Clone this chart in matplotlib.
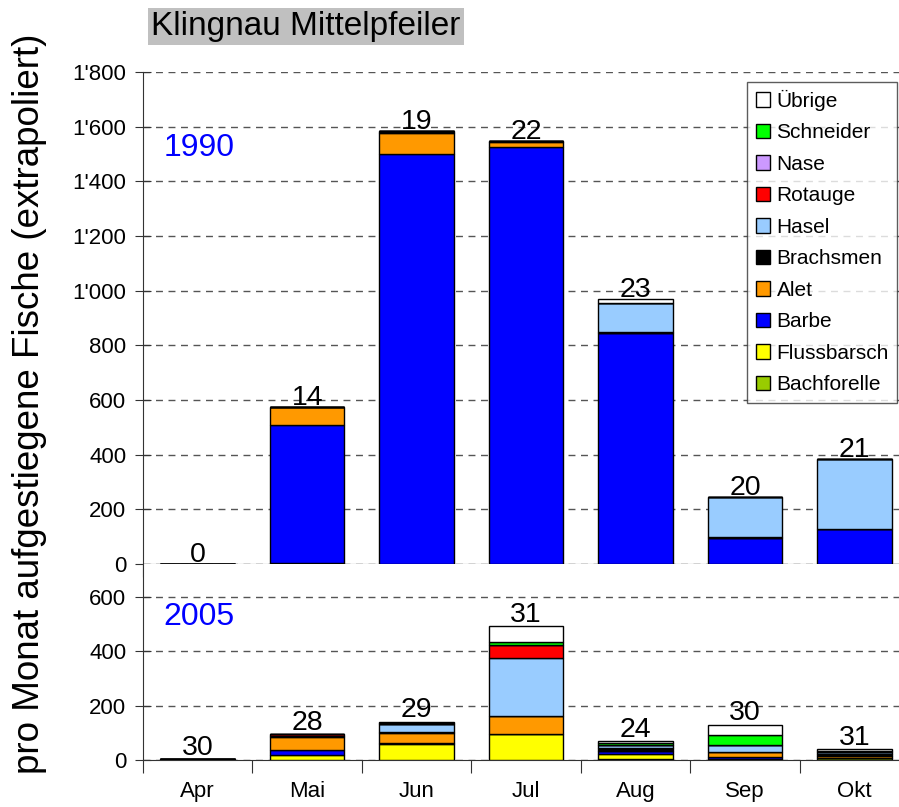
import matplotlib.pyplot as plt
import numpy as np
from matplotlib.patches import Patch

plt.rcParams['font.family'] = ['Liberation Sans', 'DejaVu Sans']

monate = ["Apr", "Mai", "Jun", "Jul", "Aug", "Sep", "Okt"]
arten = ["Bachforelle", "Flussbarsch", "Barbe", "Alet", "Brachsmen",
         "Hasel", "Rotauge", "Nase", "Schneider", "Übrige"]
farben = ["#99cc00", "#ffff00", "#0000ff", "#ff9900", "#000000",
          "#99ccff", "#ff0000", "#cc99ff", "#00ff00", "#ffffff"]

# 1990, pro Art und Monat (Apr..Okt)
w1990 = {
    "Bachforelle": [0, 4, 0, 0, 0, 0, 0],
    "Flussbarsch": [0, 0, 0, 0, 0, 0, 0],
    "Barbe":       [0, 504, 1500, 1525, 845, 95, 128],
    "Alet":        [0, 66, 75, 20, 0, 0, 0],
    "Brachsmen":   [0, 0, 8, 4, 5, 3, 0],
    "Hasel":       [0, 0, 0, 0, 105, 148, 255],
    "Rotauge":     [0, 0, 0, 0, 0, 0, 0],
    "Nase":        [0, 0, 0, 0, 0, 0, 0],
    "Schneider":   [0, 0, 0, 0, 0, 0, 0],
    "Übrige":      [0, 0, 0, 0, 15, 0, 0],
}
tage1990 = [0, 14, 19, 22, 23, 20, 21]

# 2005
w2005 = {
    "Bachforelle": [2, 0, 0, 0, 3, 3, 6],
    "Flussbarsch": [0, 18, 60, 94, 18, 0, 0],
    "Barbe":       [0, 18, 4, 0, 12, 8, 2],
    "Alet":        [0, 48, 36, 68, 2, 18, 5],
    "Brachsmen":   [0, 3, 3, 0, 9, 2, 8],
    "Hasel":       [0, 0, 30, 212, 10, 24, 8],
    "Rotauge":     [0, 8, 0, 47, 0, 0, 0],
    "Nase":        [0, 0, 0, 3, 0, 0, 2],
    "Schneider":   [0, 0, 2, 8, 8, 36, 4],
    "Übrige":      [0, 0, 5, 60, 8, 38, 4],
}
tage2005 = [30, 28, 29, 31, 24, 30, 31]

fig = plt.figure(figsize=(8.99, 8.07), dpi=100)
ax1 = fig.add_axes([0.159, 0.3011, 0.8526, 0.6097])
ax2 = fig.add_axes([0.159, 0.0582, 0.8526, 0.2429])

x = np.arange(len(monate))


def zeichne(ax, daten, tage, ymax, step, jahr, jahr_y):
    unten = np.zeros(len(monate))
    for art, farbe in zip(arten, farben):
        v = np.array(daten[art], dtype=float)
        ax.bar(x, v, 0.68, bottom=unten, color=farbe, edgecolor="black",
               linewidth=1, zorder=3)
        unten += v
    for xi, tot, t in zip(x, unten, tage):
        ax.text(xi, tot - ymax * 0.008, str(t), ha="center", va="bottom",
                fontsize=20.5, zorder=5)
    ax.set_xlim(-0.5, len(monate) - 0.5)
    ax.set_ylim(0, ymax)
    ticks = np.arange(0, ymax + 1, step)
    ticks = ticks[ticks <= ymax]
    ax.set_yticks(ticks)
    ax.set_yticklabels([f"{int(t):,}".replace(",", "'") for t in ticks], fontsize=16)
    ax.yaxis.grid(True, linestyle=(0, (5, 4)), color="#555555", linewidth=1, zorder=0)
    ax.set_xticks(np.arange(-0.5, len(monate) + 0.5, 1))
    ax.set_xticklabels([])
    ax.tick_params(axis="x", direction="out", length=9, color="#333333")
    ax.tick_params(axis="y", direction="inout", length=12, pad=6, color="#333333")
    for s in ["top", "right"]:
        ax.spines[s].set_visible(False)
    ax.spines["left"].set_color("#333333")
    ax.spines["bottom"].set_color("#333333")
    ax.text(0.027, jahr_y, jahr, transform=ax.transAxes, color="#0000ff",
            fontsize=23, va="center", ha="left")


zeichne(ax1, w1990, tage1990, 1800, 200, "1990", 0.845)
zeichne(ax2, w2005, tage2005, 720, 200, "2005", 0.73)

for xi, m in zip(x, monate):
    ax2.text(xi, -0.163, m, transform=ax2.get_xaxis_transform(), ha="center",
             va="center", fontsize=16)

fig.text(0.033, 0.5, "pro Monat aufgestiegene Fische (extrapoliert)", rotation=90,
         ha="center", va="center", fontsize=26.5)

fig.text(0.168, 0.967, "Klingnau Mittelpfeiler", fontsize=24, ha="left", va="center",
         bbox=dict(boxstyle="square,pad=0.1", facecolor="#c0c0c0", edgecolor="none"))

handles = [Patch(facecolor=f, edgecolor="black", label=a)
           for a, f in zip(arten[::-1], farben[::-1])]
leg = fig.legend(handles=handles, loc="upper right", bbox_to_anchor=(0.998, 0.899),
                 fontsize=15, frameon=True, fancybox=False, edgecolor="#333333",
                 handlelength=0.7, handleheight=0.7, handletextpad=0.3,
                 labelspacing=0.6, borderpad=0.4, borderaxespad=0)
leg.get_frame().set_linewidth(1)

fig.savefig("out.png", dpi=100)
